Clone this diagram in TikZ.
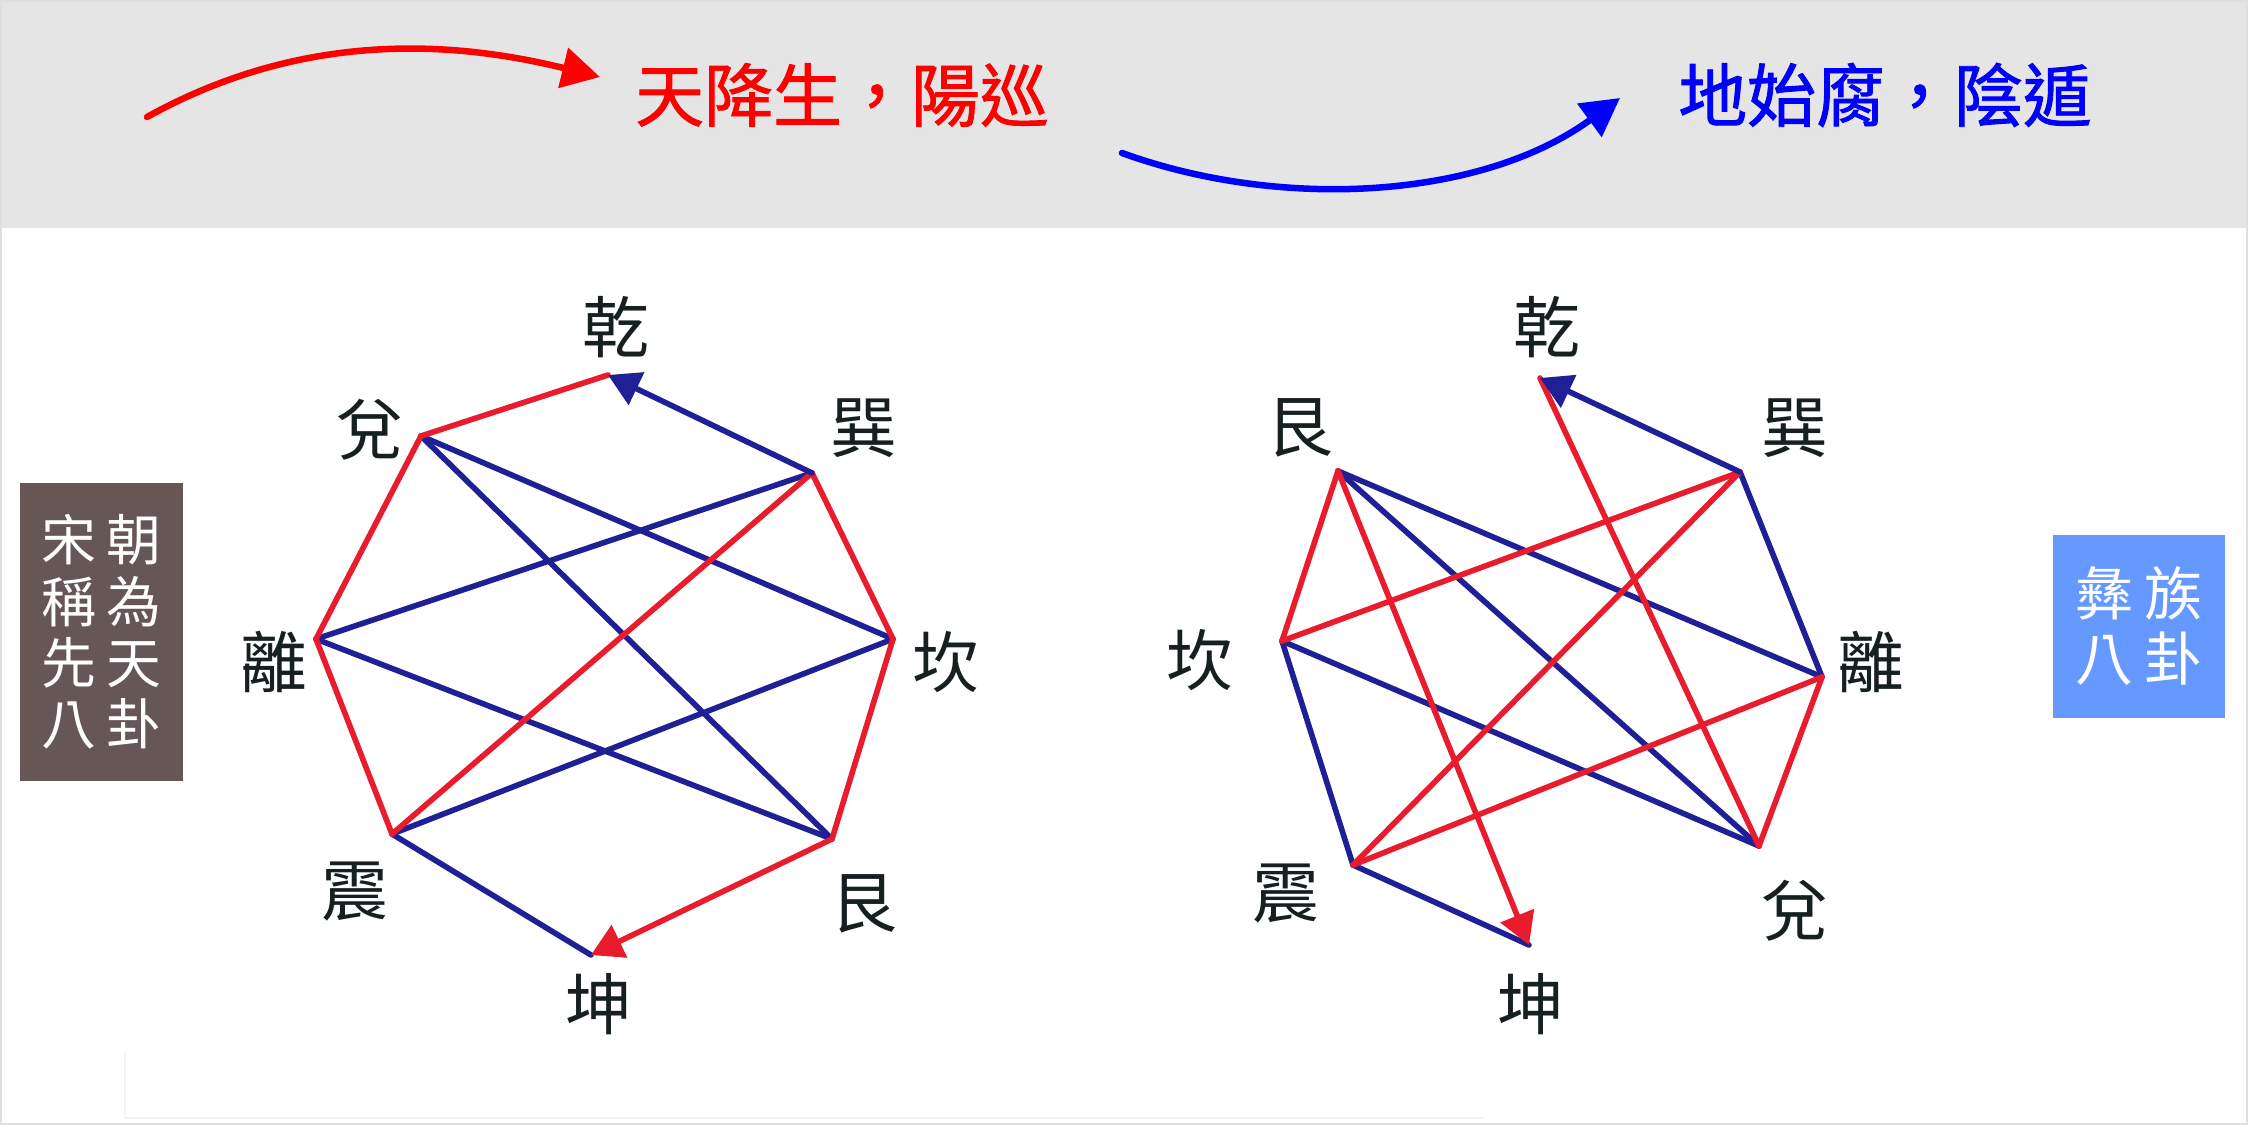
\documentclass[tikz,border=0pt]{standalone}
\usepackage{fontspec}
\setmainfont{Noto Sans CJK TC}
\newfontfamily\mottofont{Noto Sans CJK TC}[FakeBold=1.3]
\usetikzlibrary{arrows.meta}
\definecolor{yangred}{RGB}{232,28,44}
\definecolor{yinblue}{RGB}{32,32,150}
\definecolor{topred}{RGB}{255,0,0}
\definecolor{topblue}{RGB}{0,0,255}
\definecolor{band}{RGB}{229,229,229}
\definecolor{songbox}{RGB}{103,86,86}
\definecolor{yibox}{RGB}{102,153,255}
\definecolor{ink}{RGB}{22,32,32}
\tikzset{
  yang/.style={yangred,line width=1.6pt,line cap=round},
  yin/.style={yinblue,line width=1.6pt,line cap=round},
  headed/.style={-{Triangle[length=9pt,width=10pt]}},
  gua/.style={text=ink,font=\fontsize{19}{19}\selectfont,inner sep=0pt},
  swing/.style={line width=1.85pt,line cap=round,-{Triangle[length=10.8pt,width=11.4pt]}},
  motto/.style={font=\fontsize{19.6}{20}\mottofont,inner sep=0pt},
  namebox/.style={text=white,inner sep=0pt,align=center}
}
\begin{document}
\begin{tikzpicture}[x=0.01cm,y=-0.01cm]
\useasboundingbox (0,0) rectangle (2248,1125);
% band and frame
\fill[band] (0,0) rectangle (2248,228);
\draw[gray!25,line width=0.8pt] (1,1) rectangle (2247,1124);
\draw[gray!8,line width=0.6pt] (125,1050) -- (125,1118) -- (1484,1118);

% top arrows
\coordinate (rs) at (147,117);
\coordinate (re) at (600,77);
\draw[swing,topred] (rs) .. controls (304,30) and (454,41) .. (re);
\node[motto,topred] (yangxun) at (842,95) {天降生，陽巡};
\coordinate (bs) at (1122,153);
\coordinate (be) at (1620,98);
\draw[swing,topblue] (bs) .. controls (1282,211) and (1482,199) .. (be);
\node[motto,topblue] (yindun) at (1885,95) {地始腐，陰遁};

% side boxes
\node[namebox,fill=songbox,minimum width=1.63cm,minimum height=2.98cm,
  font=\fontsize{15.6}{17.4}\selectfont] (song) at (101.5,632)
  {宋\kern3pt朝\\稱\kern3pt為\\先\kern3pt天\\八\kern3pt卦};
\node[namebox,fill=yibox,minimum width=1.72cm,minimum height=1.83cm,
  font=\fontsize{16.5}{18.5}\selectfont] (yizu) at (2139,626.5)
  {彝\kern3pt族\\八\kern3pt卦};

% left octagon
\coordinate (qian1) at (608,375);
\coordinate (dui1) at (421,436);
\coordinate (li1) at (316,639);
\coordinate (zhen1) at (392,834);
\coordinate (kun1) at (591,955);
\coordinate (gen1) at (832,839);
\coordinate (kan1) at (893,639);
\coordinate (xun1) at (812,473);
\node[gua] (qianL) at (616,327) {乾};
\node[gua] (duiL) at (370,430) {兌};
\node[gua] (xunL) at (864,428) {巽};
\node[gua] (liL) at (274,662) {離};
\node[gua] (kanL) at (946,662) {坎};
\node[gua] (zhenL) at (355,892) {震};
\node[gua] (genL) at (864,904) {艮};
\node[gua] (kunL) at (599,1004) {坤};

\draw[yin] (dui1) -- (kan1);
\draw[yin] (dui1) -- (gen1);
\draw[yin] (xun1) -- (li1);
\draw[yin] (li1) -- (gen1);
\draw[yin] (kan1) -- (zhen1);
\draw[yin] (zhen1) -- (kun1);
\draw[yang] (dui1) -- (qian1);
\draw[yang] (dui1) -- (li1) -- (zhen1);
\draw[yang] (xun1) -- (kan1) -- (gen1);
\draw[yang] (xun1) -- (zhen1);
\draw[yang,headed] (gen1) -- (kun1);
\draw[yin,headed] (xun1) -- (qian1);

% right octagon
\coordinate (qian2) at (1540,378);
\coordinate (gen2) at (1338,471);
\coordinate (xun2) at (1740,472);
\coordinate (kan2) at (1282,641);
\coordinate (li2) at (1822,677);
\coordinate (zhen2) at (1353,865);
\coordinate (dui2) at (1759,846);
\coordinate (kun2) at (1529,945);
\node[gua] (qianR) at (1547,327) {乾};
\node[gua] (genR) at (1300,428) {艮};
\node[gua] (xunR) at (1795,428) {巽};
\node[gua] (kanR) at (1200,660) {坎};
\node[gua] (liR) at (1871,662) {離};
\node[gua] (zhenR) at (1286,894) {震};
\node[gua] (duiR) at (1795,911) {兌};
\node[gua] (kunR) at (1531,1004) {坤};

\draw[yin] (xun2) -- (li2);
\draw[yin] (gen2) -- (li2);
\draw[yin] (gen2) -- (dui2);
\draw[yin] (kan2) -- (dui2);
\draw[yin] (kan2) -- (zhen2) -- (kun2);
\draw[yang] (gen2) -- (kan2);
\draw[yang] (xun2) -- (kan2);
\draw[yang] (xun2) -- (zhen2);
\draw[yang] (li2) -- (zhen2);
\draw[yang] (li2) -- (dui2);
\draw[yang] (dui2) -- (qian2);
\draw[yang,headed] (gen2) -- (kun2);
\draw[yin,headed] (xun2) -- (qian2);
\end{tikzpicture}
\end{document}
